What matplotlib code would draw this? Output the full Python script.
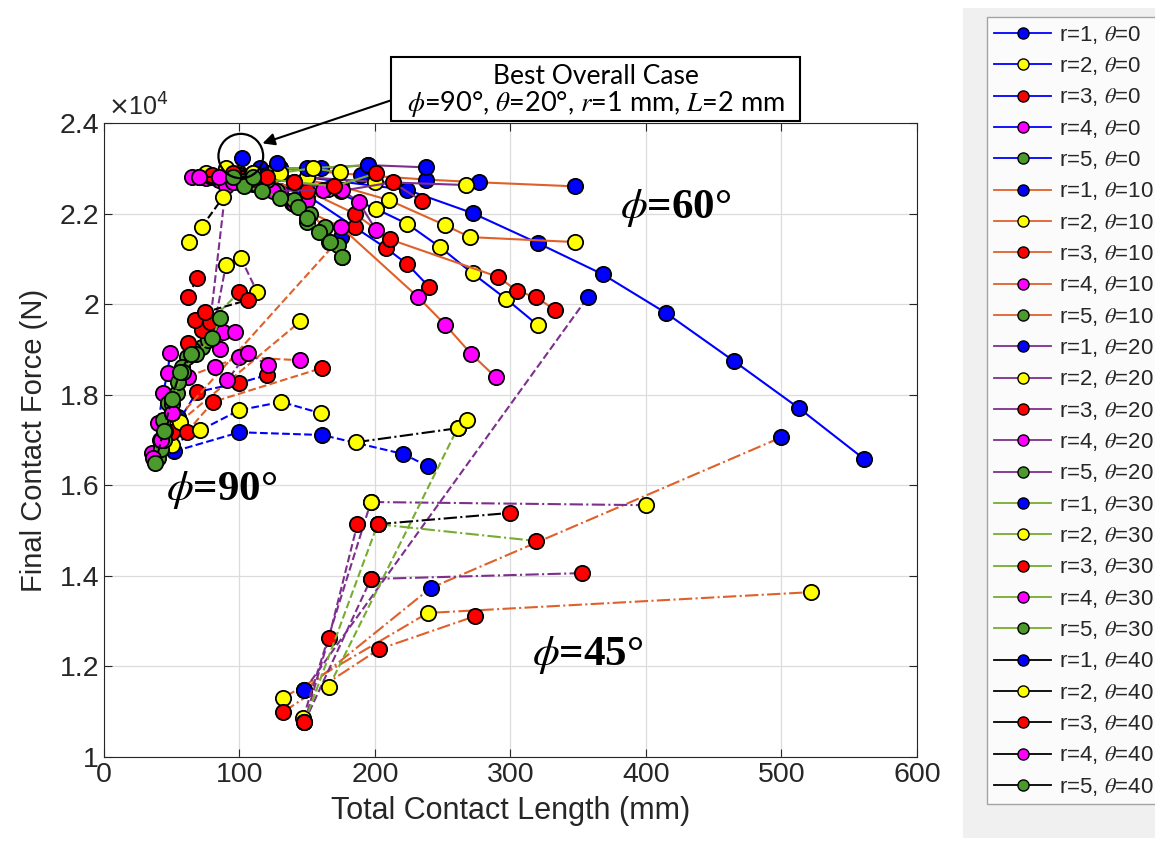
import numpy as np
import matplotlib
matplotlib.use("Agg")
import matplotlib.pyplot as plt
from matplotlib.lines import Line2D
from matplotlib.patches import Ellipse, Rectangle

nan = np.nan

THETAS = [0, 10, 20, 30, 40]
RADII = [1, 2, 3, 4, 5]

# final contact force in units of 1e4 N, contact length in mm
# each list holds r=1..5; phi=60 solid, phi=90 dashed, phi=45 dash-dot
X60_T0 = [[150, 224, 272, 320, 368, 415, 465, 513, 561],
          [120, 165, 201, 224, 248, 272, 297, 320],
          [110, 150, 185, 208, 224, 240],
          [70, 90, 110, 130, 150],
          [95, 110, 125, 139, 150, 166, 176]]
Y60_T0 = [[2.28, 2.252, 2.201, 2.135, 2.066, 1.980, 1.874, 1.770, 1.658],
          [2.285, 2.255, 2.21, 2.177, 2.126, 2.068, 2.011, 1.954],
          [2.28, 2.24, 2.17, 2.124, 2.088, 2.038],
          [2.28, 2.275, 2.265, 2.25, 2.23],
          [2.275, 2.267, 2.254, 2.223, 2.181, 2.137, 2.104]]
X90_T0 = [[52, 100, 161, 221, 239],
          [50, 100, 131, 160],
          [50, 68.6, 100, 120],
          [35.4, 40, 43.5, 47, 48.7],
          [37.6, 41.3, 43.5, 47]]
Y90_T0 = [[1.675, 1.717, 1.711, 1.669, 1.642],
          [1.689, 1.766, 1.784, 1.759],
          [1.717, 1.806, 1.826, 1.843],
          [1.671, 1.737, 1.803, 1.848, 1.892],
          [1.651, 1.70, 1.744, 1.781]]
X45_T0 = [[], [], [], [], []]
Y45_T0 = [[], [], [], [], []]

X60_T10 = [[130, 190, 238, 277, 348],
           [120, 175, 210, 252, 270, 348],
           [110, 150, 185, 211, 291, 305, 319, 333],
           [100, 140, 175, 232, 252, 271, 289],
           [100, 115, 128, 140, 152, 163, 173]]
Y60_T10 = [[2.30, 2.285, 2.275, 2.269, 2.260],
           [2.29, 2.26, 2.23, 2.174, 2.148, 2.137],
           [2.28, 2.25, 2.20, 2.143, 2.060, 2.029, 2.015, 1.987],
           [2.27, 2.22, 2.17, 2.015, 1.954, 1.890, 1.839],
           [2.28, 2.265, 2.25, 2.23, 2.20, 2.17, 2.13]]
X90_T10 = [[55, 175],
           [56, 145],
           [61, 80.5, 161],
           [62, 100, 145],
           [40, 45, 54, 61, 72]]
Y90_T10 = [[1.75, 2.148],
           [1.740, 1.962],
           [1.717, 1.784, 1.859],
           [1.84, 1.883, 1.876],
           [1.66, 1.72, 1.803, 1.883, 1.905]]
X45_T10 = [[148, 241, 500],
           [132, 239, 522],
           [132, 203, 274],
           [], []]
Y45_T10 = [[1.148, 1.373, 1.706],
           [1.130, 1.318, 1.364],
           [1.099, 1.238, 1.311],
           [], []]

X60_T20 = [[130, 160, 195, 238],
           [100, 150, 200, 267],
           [100, 140, 175, 213, 235],
           [65, 75, 85, 95, 105, 125, 162, 176, 188, 201],
           [90, 100, 110, 120]]
Y60_T20 = [[2.30, 2.30, 2.307, 2.302],
           [2.29, 2.28, 2.27, 2.263],
           [2.285, 2.27, 2.25, 2.269, 2.227],
           [2.28, 2.278, 2.275, 2.27, 2.265, 2.25, 2.252, 2.252, 2.225, 2.163],
           [2.29, 2.285, 2.28, 2.275]]
X90_T20 = [[102, nan, 148, 357],
           [147, 197, nan, 80, 90, 101, 113],
           [148, 166, 187, nan, 148, 197],
           [82, 91, 106, 121, nan, 78, 90],
           [42, 50, 54.6, 57.5, 66, 77]]
Y90_T20 = [[2.322, nan, 1.148, 2.015],
           [1.086, 1.563, nan, 1.93, 2.086, 2.102, 2.027],
           [1.077, 1.263, 1.514, nan, 1.077, 1.393],
           [1.861, 1.832, 1.892, 1.865, nan, 1.95, 2.26],
           [1.68, 1.76, 1.828, 1.861, 1.898, 1.920]]
X45_T20 = [[], [197, 400], [197, 353], [], []]
Y45_T20 = [[], [1.563, 1.556], [1.393, 1.406], [], []]

X60_T30 = [[115, 150, 195],
           [90, 130, 154, 174],
           [100, 140, 170, 201],
           [80, 95],
           [103, 117, 130, 143, 150, 159, 167, 176]]
Y60_T30 = [[2.30, 2.30, 2.307],
           [2.29, 2.29, 2.300, 2.291],
           [2.28, 2.27, 2.26, 2.289],
           [2.28, 2.27],
           [2.26, 2.25, 2.235, 2.215, 2.19, 2.16, 2.137, 2.104]]
X90_T30 = [[],
           [71, nan, 166, 261],
           [62, 72, 78, 100, nan, 148, 202],
           [86, 88, 97],
           [44, 50, 58, 68, 80, 86]]
Y90_T30 = [[],
           [1.722, nan, 1.155, 1.726],
           [1.914, 1.943, 1.961, 2.027, nan, 1.077, 1.514],
           [1.90, 1.938, 1.938],
           [1.70, 1.78, 1.85, 1.89, 1.925, 1.97]]
X45_T30 = [[], [], [202, 319], [], []]
Y45_T30 = [[], [], [1.514, 1.477], [], []]

X60_T40 = [[80, 110, 128],
           [75, 90, 110],
           [80, 95, 120],
           [70, 85],
           [95, 110]]
Y60_T40 = [[2.28, 2.29, 2.311],
           [2.29, 2.30, 2.29],
           [2.285, 2.29, 2.28],
           [2.28, 2.28],
           [2.28, 2.28]]
X90_T40 = [[],
           [62.7, nan, 72, 88],
           [67, 74.5, 106, nan, 62, 68.6],
           [36, 42, 50],
           [38, 44, 50, 56, 64]]
Y90_T40 = [[],
           [2.137, nan, 2.17, 2.236],
           [1.965, 1.982, 2.009, nan, 2.016, 2.057],
           [1.66, 1.70, 1.76],
           [1.65, 1.72, 1.79, 1.85, 1.89]]
X45_T40 = [[], [186, 261, 268], [202, 300], [], []]
Y45_T40 = [[], [1.695, 1.726, 1.744], [1.514, 1.539], [], []]

LINE_COLORS = ["#0000FF", "#E0602A", "#7E2F8E", "#77AC30", "#000000"]
FACE_COLORS = ["#0000FF", "#FFFF00", "#FF0000", "#FF00FF", "#4A9A2C"]

plt.rcParams["font.family"] = ["Liberation Sans", "DejaVu Sans"]

groups = [
    (X60_T0, Y60_T0, X90_T0, Y90_T0, X45_T0, Y45_T0),
    (X60_T10, Y60_T10, X90_T10, Y90_T10, X45_T10, Y45_T10),
    (X60_T20, Y60_T20, X90_T20, Y90_T20, X45_T20, Y45_T20),
    (X60_T30, Y60_T30, X90_T30, Y90_T30, X45_T30, Y45_T30),
    (X60_T40, Y60_T40, X90_T40, Y90_T40, X45_T40, Y45_T40),
]

fig = plt.figure(figsize=(11.55, 8.47), dpi=100)
ax = fig.add_axes([0.0900, 0.1063, 0.7039, 0.7485])

for ti, theta in enumerate(THETAS):
    x60, y60, x90, y90, x45, y45 = groups[ti]
    for ri, r in enumerate(RADII):
        for xs, ys, ls in [(x60[ri], y60[ri], "-"), (x90[ri], y90[ri], "--"),
                           (x45[ri], y45[ri], "-.")]:
            if len(xs) == 0:
                continue
            # nan splits a series into separate pieces
            ax.plot(xs, ys, ls=ls, color=LINE_COLORS[ti], lw=1.5,
                    marker="o", ms=11, mfc=FACE_COLORS[ri], mec="k", mew=1.3)

ax.set_xlim(0, 600)
ax.set_ylim(1, 2.4)
ax.set_xticks(np.arange(0, 601, 100))
ax.set_yticks(np.arange(1, 2.41, 0.2))
ax.set_yticklabels([f"{v:g}" for v in np.arange(1, 2.41, 0.2).round(1)])
ax.tick_params(direction="in", top=True, right=True, labelsize=20.5,
               length=6, color="#262626", labelcolor="#262626")
ax.grid(True, color="#dcdcdc", lw=0.9)
ax.set_axisbelow(True)
for s in ax.spines.values():
    s.set_color("#262626")
ax.set_xlabel("Total Contact Length (mm)", fontsize=22, color="#262626", labelpad=6)
ax.set_ylabel("Final Contact Force (N)", fontsize=21, color="#262626", labelpad=8)

fig.text(108 / 1155, 1 - 121 / 847, r"$\times$10$^4$", fontsize=18,
         va="bottom", ha="left", color="#262626")

# phi region labels
ax.text(422, 2.212, r"$\phi$=60°", fontsize=31, fontweight="bold",
        family="Liberation Serif", math_fontfamily="stix", ha="center", va="center")
ax.text(87, 1.589, r"$\phi$=90°", fontsize=31, fontweight="bold",
        family="Liberation Serif", math_fontfamily="stix", ha="center", va="center")
ax.text(357, 1.225, r"$\phi$=45°", fontsize=31, fontweight="bold",
        family="Liberation Serif", math_fontfamily="stix", ha="center", va="center")

# best case highlight
ax.add_patch(Ellipse((101, 2.327), 33, 0.098, fill=False, lw=1.6, color="k",
                     clip_on=False, zorder=5))
ax.annotate("", xy=(117, 2.355), xycoords="data",
            xytext=(392 / 1155, 1 - 100 / 847), textcoords="figure fraction",
            arrowprops=dict(arrowstyle="-|>", color="k", lw=1.5,
                            mutation_scale=18, shrinkA=0, shrinkB=0))
fig.patches.append(Rectangle((391 / 1155, 1 - 121 / 847), 409 / 1155, 64 / 847,
                             transform=fig.transFigure, facecolor="white",
                             edgecolor="k", lw=1.5, zorder=5))
fig.text(596 / 1155, 1 - 77 / 847, "Best Overall Case", fontsize=19,
         family="Lato", ha="center", va="center", zorder=6)
fig.text(596 / 1155, 1 - 104 / 847,
         r"$\it{\phi}$=90°, $\it{\theta}$=20°, $\it{r}$=1 mm, $\it{L}$=2 mm",
         fontsize=19.5, family="Lato", math_fontfamily="stix",
         ha="center", va="center", zorder=6)

# legend
fig.patches.append(Rectangle((963 / 1155, 1 - 838 / 847), 200 / 1155, 830 / 847,
                             transform=fig.transFigure, facecolor="#f0f0f0",
                             edgecolor="none", zorder=0))
handles = []
labels = []
for ti, theta in enumerate(THETAS):
    for ri, r in enumerate(RADII):
        handles.append(Line2D([], [], color=LINE_COLORS[ti], lw=1.3, marker="o",
                              ms=8, mfc=FACE_COLORS[ri], mec="k", mew=1.0))
        labels.append(f"r={r}, $\\theta$={theta}")
leg = fig.legend(handles, labels, loc="upper left",
                 bbox_to_anchor=(987 / 1155, 1 - 17 / 847), fontsize=16,
                 labelspacing=0.42, handlelength=2.6, handletextpad=0.32,
                 borderpad=0.3, frameon=True, fancybox=False, borderaxespad=0)
leg.get_frame().set_edgecolor("#909090")
leg.get_frame().set_linewidth(1.0)
for t in leg.get_texts():
    t.set_math_fontfamily("stix")
    t.set_color("#262626")

fig.savefig("out.png", dpi=100)
